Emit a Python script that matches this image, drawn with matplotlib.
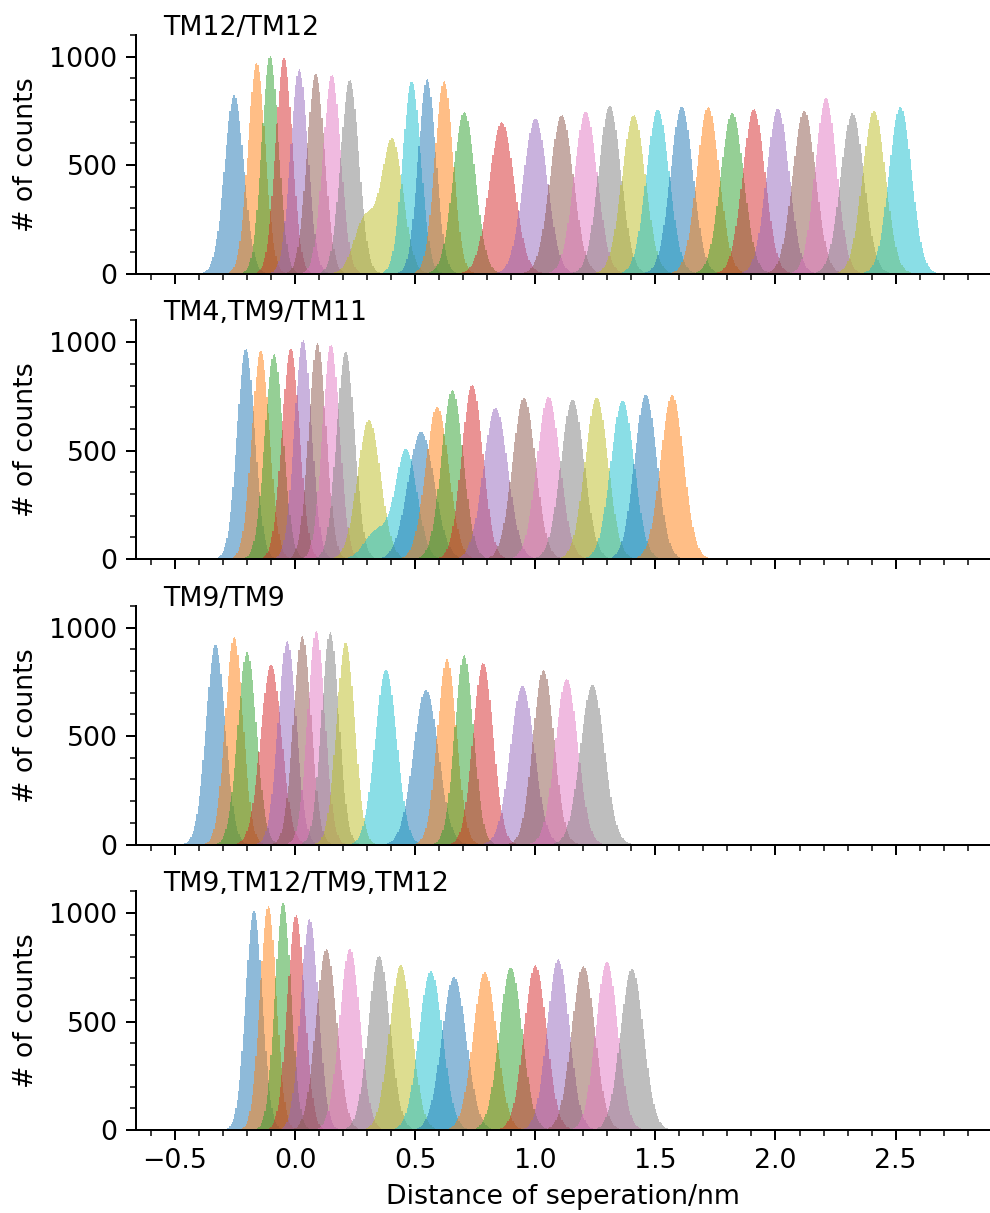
import numpy as np
import matplotlib
matplotlib.use("Agg")
import matplotlib.pyplot as plt
from matplotlib.ticker import MultipleLocator

plt.rcParams["font.size"] = 10.7
plt.rcParams["xtick.major.size"] = 3.9
plt.rcParams["ytick.major.size"] = 3.9
plt.rcParams["xtick.minor.size"] = 2.2
plt.rcParams["ytick.minor.size"] = 2.2

#%% Window data (centre / nm, peak counts, width / nm)

titles = ["TM12/TM12", "TM4,TM9/TM11", "TM9/TM9", "TM9,TM12/TM9,TM12"]

# TM12/TM12
centers1 = [-0.254, -0.16, -0.104, -0.046, 0.017, 0.086, 0.153, 0.228, 0.405, 0.486,
            0.55, 0.62, 0.704, 0.86, 1.0, 1.11, 1.21, 1.31, 1.41, 1.51,
            1.61, 1.72, 1.82, 1.91, 2.01, 2.12, 2.21, 2.32, 2.41, 2.52]
heights1 = [823, 972, 1003, 993, 942, 920, 916, 893, 615, 885,
            896, 889, 746, 698, 715, 730, 745, 772, 730, 755,
            770, 768, 742, 757, 760, 750, 808, 740, 750, 770]
sigmas1 = [0.040, 0.036, 0.035, 0.035, 0.036, 0.037, 0.037, 0.038, 0.045, 0.038,
           0.037, 0.038, 0.046, 0.052, 0.050, 0.049, 0.048, 0.047, 0.049, 0.048,
           0.047, 0.047, 0.048, 0.047, 0.047, 0.048, 0.045, 0.048, 0.048, 0.047]
# second hump of a window: (window index, centre, counts, width)
extra1 = [(8, 0.29, 250, 0.045)]

# TM4,TM9/TM11
centers2 = [-0.205, -0.143, -0.088, -0.018, 0.033, 0.093, 0.15, 0.21, 0.308, 0.463,
            0.525, 0.592, 0.655, 0.738, 0.835, 0.953, 1.055, 1.155, 1.255, 1.363,
            1.46, 1.57]
heights2 = [969, 958, 947, 970, 1008, 997, 989, 954, 641, 502,
            587, 703, 781, 804, 697, 744, 749, 734, 744, 731,
            757, 757]
sigmas2 = [0.037, 0.037, 0.038, 0.037, 0.036, 0.036, 0.036, 0.038, 0.048, 0.045,
           0.055, 0.048, 0.045, 0.044, 0.051, 0.048, 0.048, 0.049, 0.048, 0.049,
           0.047, 0.048]
extra2 = [(9, 0.34, 130, 0.05)]

# TM9/TM9
centers3 = [-0.331, -0.254, -0.2, -0.1, -0.033, 0.03, 0.088, 0.146, 0.21, 0.378,
            0.545, 0.632, 0.704, 0.783, 0.946, 1.034, 1.13, 1.238]
heights3 = [920, 958, 889, 828, 939, 962, 986, 979, 931, 805,
            713, 855, 874, 837, 731, 805, 763, 735]
sigmas3 = [0.040, 0.037, 0.039, 0.044, 0.038, 0.037, 0.036, 0.036, 0.038, 0.045,
           0.052, 0.040, 0.039, 0.042, 0.050, 0.044, 0.047, 0.050]
extra3 = []

# TM9,TM12/TM9,TM12
centers4 = [-0.171, -0.112, -0.05, 0.004, 0.06, 0.13, 0.228, 0.35, 0.44, 0.565,
            0.662, 0.79, 0.898, 1.0, 1.096, 1.2, 1.298, 1.403]
heights4 = [1011, 1034, 1045, 991, 972, 833, 837, 802, 759, 733,
            707, 728, 748, 759, 787, 756, 775, 744]
sigmas4 = [0.035, 0.034, 0.034, 0.036, 0.037, 0.043, 0.043, 0.045, 0.047, 0.049,
           0.051, 0.049, 0.048, 0.047, 0.046, 0.048, 0.046, 0.048]
extra4 = []

panels = [(centers1, heights1, sigmas1, extra1),
          (centers2, heights2, sigmas2, extra2),
          (centers3, heights3, sigmas3, extra3),
          (centers4, heights4, sigmas4, extra4)]

bin_width = 0.005

#%% Figure

fig, axes = plt.subplots(4, 1, sharex=True, figsize=(5.5, 1213 / 180), dpi=180)
plt.subplots_adjust(left=136 / 990, right=0.999, top=1 - 35 / 1213,
                    bottom=1 - 1130 / 1213, hspace=0.197)

for ax, title, (cs, hs, ss, extra) in zip(axes, titles, panels):
    for i, (c, h, s) in enumerate(zip(cs, hs, ss)):
        humps = [(c, h, s)] + [(ec, eh, es) for (j, ec, eh, es) in extra if j == i]
        lo = min(hc - 4.5 * hsig for hc, _, hsig in humps)
        hi = max(hc + 4.5 * hsig for hc, _, hsig in humps)
        edges = np.arange(lo, hi + bin_width, bin_width)
        mids = 0.5 * (edges[:-1] + edges[1:])
        counts = sum(hh * np.exp(-0.5 * ((mids - hc) / hsig) ** 2) for hc, hh, hsig in humps)
        ax.stairs(counts, edges, fill=True, alpha=0.5, color=f"C{i % 10}", linewidth=0)

    ax.text(0.032, 1.0, title, transform=ax.transAxes, ha="left", va="baseline")
    ax.set_ylabel("# of counts")
    ax.set_ylim(0, 1100)
    ax.set_xlim(-0.6625, 2.889)
    ax.xaxis.set_major_locator(MultipleLocator(0.5))
    ax.xaxis.set_minor_locator(MultipleLocator(0.1))
    ax.yaxis.set_major_locator(MultipleLocator(500))
    ax.yaxis.set_minor_locator(MultipleLocator(100))
    ax.spines["top"].set_visible(False)
    ax.spines["right"].set_visible(False)

axes[-1].set_xlabel("Distance of seperation/nm")

plt.savefig("out.png", dpi=180)
